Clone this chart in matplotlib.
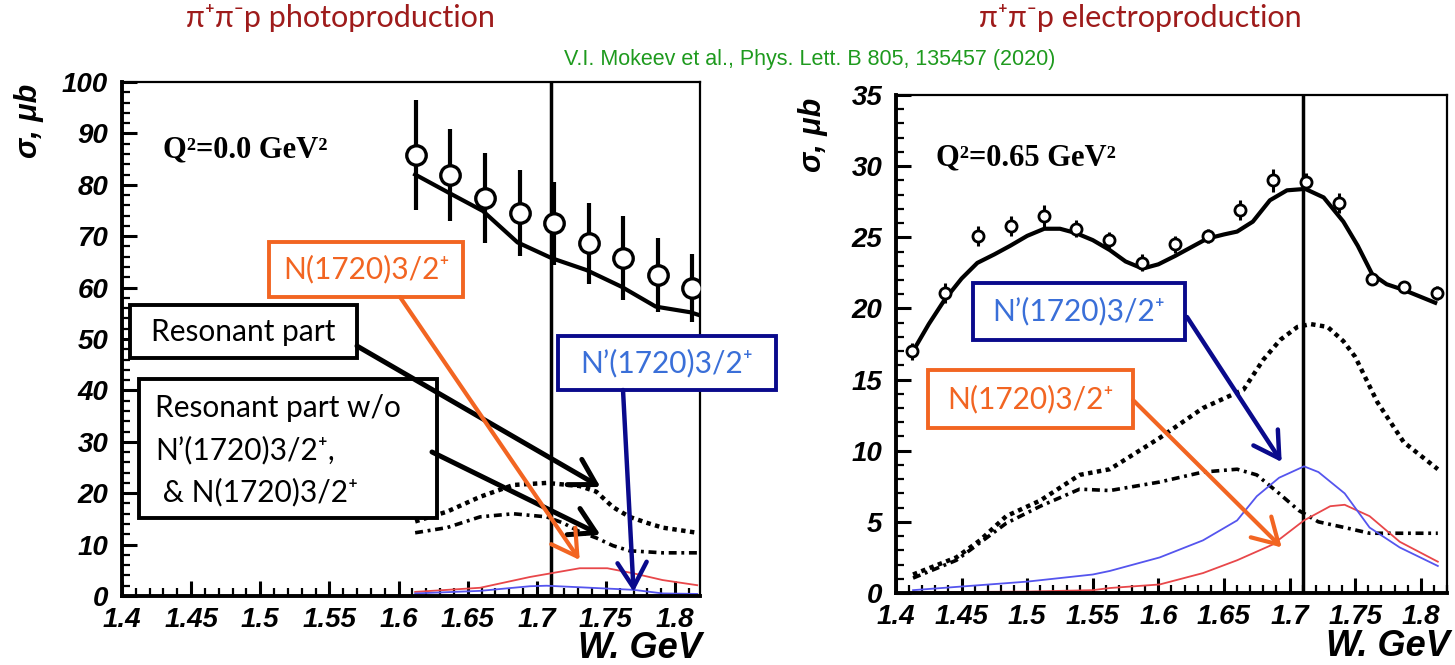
import matplotlib.pyplot as plt
from matplotlib.patches import Rectangle

plt.rcParams['font.family'] = ['Liberation Sans', 'DejaVu Sans']

# ---- pi+ pi- p photoproduction, Q^2 = 0 ----
w_photo = [1.6125, 1.6375, 1.6625, 1.6875, 1.7125, 1.7375, 1.7625, 1.7875, 1.8125]
sig_photo = [85.8, 81.9, 77.4, 74.5, 72.5, 68.6, 65.7, 62.4, 60.0]
err_photo = [10.7, 9.0, 8.7, 8.4, 8.1, 7.9, 8.2, 7.2, 6.6]

w_photo_fit = [1.612, 1.636, 1.661, 1.686, 1.711, 1.736, 1.761, 1.786, 1.811, 1.818]
sig_photo_fit = [82.0, 78.5, 74.9, 68.8, 65.7, 63.4, 60.2, 56.3, 55.2, 54.6]

w_photo_res = [1.612, 1.635, 1.659, 1.683, 1.707, 1.731, 1.743, 1.755, 1.767, 1.780, 1.791, 1.816]
sig_photo_res = [14.5, 16.4, 19.3, 21.6, 22.0, 21.4, 20.3, 17.3, 15.4, 14.2, 13.3, 12.3]

w_photo_wo = [1.612, 1.635, 1.659, 1.683, 1.707, 1.719, 1.731, 1.743, 1.755, 1.767, 1.791, 1.816]
sig_photo_wo = [12.3, 13.3, 15.4, 16.0, 15.4, 14.2, 12.5, 11.3, 9.8, 8.8, 8.4, 8.4]

w_photo_n = [1.612, 1.659, 1.695, 1.731, 1.751, 1.770, 1.791, 1.816]
sig_photo_n = [0.8, 1.6, 3.7, 5.4, 5.4, 4.4, 3.1, 2.1]

w_photo_np = [1.612, 1.659, 1.695, 1.707, 1.731, 1.770, 1.791, 1.816]
sig_photo_np = [0.5, 1.0, 1.9, 2.0, 1.7, 1.2, 0.5, 0.4]

# ---- pi+ pi- p electroproduction, Q^2 = 0.65 GeV^2 ----
w_el = [1.4125, 1.4375, 1.4625, 1.4875, 1.5125, 1.5375, 1.5625, 1.5875, 1.6125,
        1.6375, 1.6625, 1.6875, 1.7125, 1.7375, 1.7625, 1.7875, 1.8125]
sig_el = [17.0, 21.1, 25.1, 25.8, 26.5, 25.6, 24.8, 23.2, 24.5,
          25.1, 26.9, 29.0, 28.9, 27.4, 22.1, 21.5, 21.1]
err_el = [0.6, 0.7, 0.7, 0.7, 0.8, 0.6, 0.6, 0.6, 0.6,
          0.5, 0.7, 0.8, 0.6, 0.7, 0.4, 0.4, 0.5]

w_el_fit = [1.413, 1.425, 1.437, 1.450, 1.462, 1.475, 1.487, 1.500, 1.513, 1.525,
            1.537, 1.550, 1.563, 1.575, 1.588, 1.600, 1.613, 1.637, 1.650,
            1.660, 1.672, 1.685, 1.698, 1.712, 1.726, 1.741, 1.752, 1.763, 1.774,
            1.787, 1.811]
sig_el_fit = [17.0, 18.9, 20.6, 22.1, 23.2, 23.8, 24.4, 25.1, 25.6, 25.6,
              25.3, 24.8, 24.1, 23.3, 22.8, 23.1, 23.7, 24.9, 25.2,
              25.4, 26.1, 27.6, 28.3, 28.4, 27.8, 26.1, 24.4, 22.4, 21.7,
              21.3, 20.4]

w_el_res = [1.413, 1.446, 1.464, 1.484, 1.510, 1.540, 1.563, 1.601, 1.634, 1.665,
            1.675, 1.680, 1.693, 1.706, 1.716, 1.729, 1.741, 1.750, 1.767, 1.787, 1.813]
sig_el_res = [1.3, 2.5, 3.7, 5.4, 6.5, 8.3, 8.7, 10.9, 13.0, 14.3,
              15.7, 16.4, 17.8, 18.7, 18.9, 18.7, 17.7, 16.6, 13.4, 10.6, 8.7]

w_el_wo = [1.413, 1.446, 1.484, 1.510, 1.540, 1.563, 1.601, 1.634, 1.660, 1.675,
           1.692, 1.707, 1.722, 1.742, 1.761, 1.813]
sig_el_wo = [1.05, 2.3, 4.9, 6.1, 7.3, 7.2, 7.8, 8.5, 8.7, 8.3,
             7.0, 5.8, 5.0, 4.6, 4.2, 4.2]

w_el_np = [1.413, 1.500, 1.550, 1.563, 1.601, 1.634, 1.660, 1.675, 1.692, 1.711,
           1.722, 1.742, 1.761, 1.784, 1.813]
sig_el_np = [0.2, 0.8, 1.3, 1.55, 2.5, 3.7, 5.1, 6.8, 8.1, 8.9,
             8.5, 7.0, 4.6, 3.2, 1.9]

w_el_n = [1.413, 1.500, 1.550, 1.563, 1.601, 1.634, 1.660, 1.687, 1.711, 1.731,
          1.742, 1.761, 1.784, 1.813]
sig_el_n = [0.05, 0.1, 0.2, 0.35, 0.6, 1.4, 2.3, 3.4, 5.1, 6.1,
            6.2, 5.4, 3.6, 2.2]

w_line = 1.71

x_ticks = [1.4, 1.45, 1.5, 1.55, 1.6, 1.65, 1.7, 1.75, 1.8]
x_tick_labels = ['1.4', '1.45', '1.5', '1.55', '1.6', '1.65', '1.7', '1.75', '1.8']
y_ticks_photo = [0, 10, 20, 30, 40, 50, 60, 70, 80, 90, 100]
y_ticks_el = [0, 5, 10, 15, 20, 25, 30, 35]

W, H = 1455, 665
fig = plt.figure(figsize=(W / 100, H / 100), dpi=100)
ax1 = fig.add_axes([122 / W, 1 - 596 / H, 578 / W, 514 / H])
ax2 = fig.add_axes([896 / W, 1 - 593 / H, 551 / W, 498 / H])

# pixel-space layer for titles, callouts and arrows
ov = fig.add_axes([0, 0, 1, 1], zorder=10)
ov.set_xlim(0, W)
ov.set_ylim(H, 0)
ov.set_axis_off()
ov.patch.set_visible(False)


def style_axes(ax, xmax, yticks, yminor):
    ax.set_xlim(1.4, xmax)
    ax.set_ylim(0, yticks[-1])
    ax.set_xticks(x_ticks, labels=x_tick_labels, fontsize=20,
                  fontweight='bold', fontstyle='italic')
    ax.set_xticks([1.4 + 0.01 * i for i in range(int((xmax - 1.4) / 0.01) + 1)], minor=True)
    ax.set_yticks(yticks, labels=[str(v) for v in yticks], fontsize=20,
                  fontweight='bold', fontstyle='italic')
    ax.set_yticks([yminor * i for i in range(int(yticks[-1] / yminor) + 1)], minor=True)
    ax.tick_params(which='both', direction='in', top=False, right=False, color='black')
    ax.tick_params(which='major', length=11, width=2.2)
    ax.tick_params(axis='x', which='major', pad=8)
    ax.tick_params(axis='y', which='major', pad=10)
    ax.tick_params(which='minor', length=6, width=1.6)
    ax.spines['left'].set_linewidth(2.8)
    ax.spines['bottom'].set_linewidth(2.8)
    ax.spines['top'].set_linewidth(1.6)
    ax.spines['right'].set_linewidth(1.6)
    ax.axvline(w_line, color='black', lw=2.5, zorder=1)


dot = (0, (1, 1))
dashdot = (0, (2.2, 1.3, 0.8, 1.3))

# photoproduction panel
style_axes(ax1, 1.818, y_ticks_photo, 2)
ax1.plot(w_photo_fit, sig_photo_fit, color='black', lw=3, zorder=2)
ax1.plot(w_photo_res, sig_photo_res, color='black', lw=3.2, ls=dot, zorder=2)
ax1.plot(w_photo_wo, sig_photo_wo, color='black', lw=2.6, ls=dashdot, zorder=2)
ax1.plot(w_photo_n, sig_photo_n, color='#E8474A', lw=1.3, zorder=2)
ax1.plot(w_photo_np, sig_photo_np, color='#5555EE', lw=1.3, zorder=2)
ax1.errorbar(w_photo, sig_photo, yerr=err_photo, fmt='o', ms=14, mfc='white',
             mec='black', mew=2.4, ecolor='black', elinewidth=3, capsize=0, zorder=3)

# electroproduction panel
style_axes(ax2, 1.82, y_ticks_el, 1)
ax2.plot(w_el_fit, sig_el_fit, color='black', lw=3, zorder=2)
ax2.plot(w_el_res, sig_el_res, color='black', lw=3.2, ls=dot, zorder=2)
ax2.plot(w_el_wo, sig_el_wo, color='black', lw=2.6, ls=dashdot, zorder=2)
ax2.plot(w_el_n, sig_el_n, color='#E8474A', lw=1.3, zorder=2)
ax2.plot(w_el_np, sig_el_np, color='#5555EE', lw=1.3, zorder=2)
ax2.errorbar(w_el, sig_el, yerr=err_el, fmt='o', ms=8, mfc='white',
             mec='black', mew=2.0, ecolor='black', elinewidth=2.2, capsize=0, zorder=3)

# titles and axis labels
title_kw = dict(color='#9E1B1B', fontsize=22, ha='center', va='center',
                family=['Lato', 'DejaVu Sans'])
ov.text(340, 18, 'π⁺π⁻p photoproduction', **title_kw)
ov.text(1140, 18, 'π⁺π⁻p electroproduction', **title_kw)
ov.text(810, 60, 'V.I. Mokeev et al., Phys. Lett. B 805, 135457 (2020)',
        color='#1E9A1E', fontsize=15.5, ha='center', va='center')

for x, y in [(29, 121), (813, 135)]:
    ov.text(x, y, 'σ, μb', rotation=90, fontsize=22, fontweight='bold',
            fontstyle='italic', ha='center', va='center')
for x, y in [(702, 648), (1450, 646)]:
    ov.text(x, y, 'W. GeV', fontsize=26, fontweight='bold', fontstyle='italic',
            ha='right', va='center')

q_kw = dict(fontsize=22, fontweight='bold', family='Liberation Serif', va='center')
ov.text(163, 150, 'Q²=0.0 GeV²', **q_kw)
ov.text(936, 158, 'Q²=0.65 GeV²', **q_kw)

# callout boxes
orange = '#F26522'
navy = '#0A0A8C'
light_blue = '#3A6FD8'
box_kw = dict(family=['Lato', 'DejaVu Sans'], fontsize=21.5)


def callout(x0, y0, x1, y1, edge, text=None, color='black'):
    ov.add_patch(Rectangle((x0, y0), x1 - x0, y1 - y0, fc='white', ec=edge, lw=2.8, zorder=3))
    if text is not None:
        ov.text((x0 + x1) / 2, (y0 + y1) / 2, text, color=color, ha='center',
                va='center', zorder=4, **box_kw)


callout(269, 242, 463, 297, orange, 'N(1720)3/2⁺', orange)
callout(130, 305, 357, 358, 'black', 'Resonant part')
callout(139, 379, 437, 518, 'black')
for y, line in [(408, 'Resonant part w/o'), (450, 'N’(1720)3/2⁺,'), (492, ' & N(1720)3/2⁺')]:
    ov.text(155, y, line, ha='left', va='center', zorder=4, **box_kw)
callout(558, 336, 776, 390, navy, 'N’(1720)3/2⁺', light_blue)
callout(973, 283, 1185, 340, navy, 'N’(1720)3/2⁺', light_blue)
callout(928, 370, 1133, 428, orange, 'N(1720)3/2⁺', orange)


def arrow(ax, target, start, color, lw):
    ov.annotate('', xy=target, xycoords=ax.transData, xytext=start,
                textcoords=ov.transData, annotation_clip=False, zorder=5,
                arrowprops=dict(arrowstyle='->,head_length=0.6,head_width=0.35',
                                mutation_scale=30, color=color, lw=lw,
                                shrinkA=0, shrinkB=0))


arrow(ax1, (1.746, 21.2), (357, 346), 'black', 3.6)
arrow(ax1, (1.746, 11.9), (432, 452), 'black', 3.6)
arrow(ax1, (1.731, 7.0), (400, 297), orange, 3.0)
arrow(ax1, (1.770, 0.8), (623, 390), navy, 3.2)
arrow(ax2, (1.694, 9.2), (1187, 317), navy, 3.2)
arrow(ax2, (1.694, 3.2), (1133, 400), orange, 3.0)

fig.savefig('out.png', dpi=100)
